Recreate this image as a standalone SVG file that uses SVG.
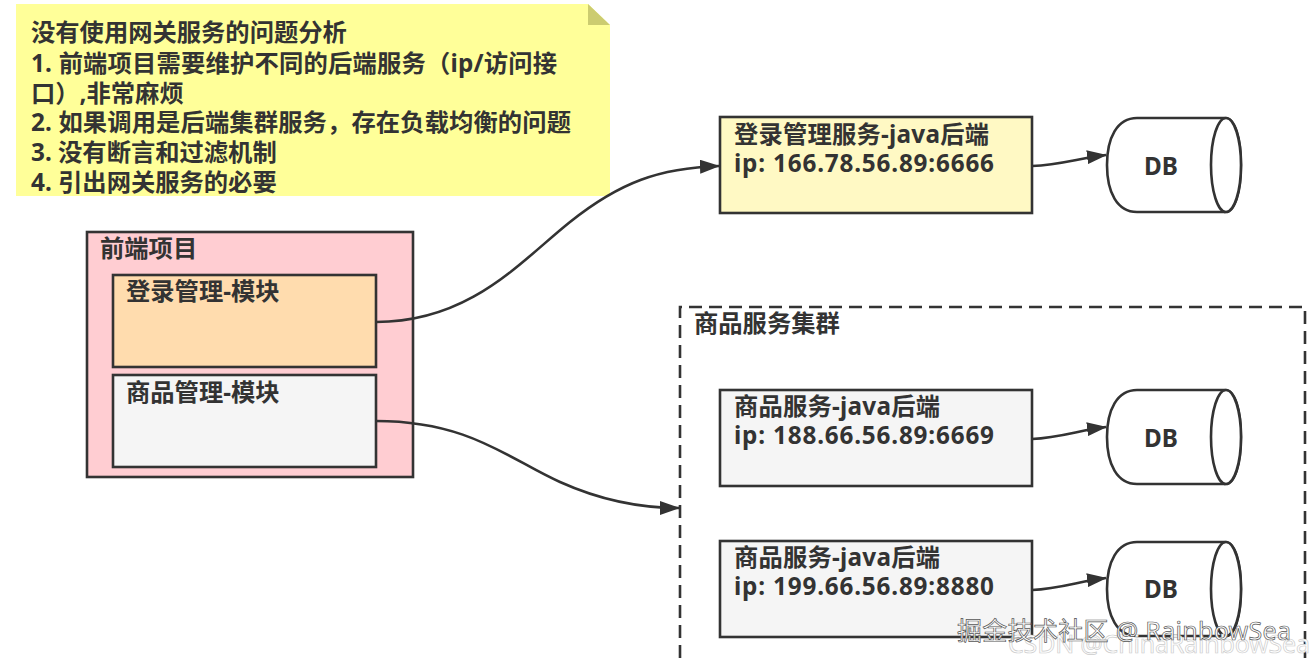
<svg xmlns="http://www.w3.org/2000/svg" width="1310" height="664" viewBox="0 0 1310 664">
<style>
text{font-family:"Noto Sans","Noto Sans CJK SC","Liberation Sans",sans-serif;font-weight:700;fill:#333;font-size:24.3px}
.box{stroke:#333;stroke-width:2.6}
.db{fill:#fff;stroke:#333;stroke-width:2.6}
.c{fill:none;stroke:#333;stroke-width:2.6}
.wm{font-weight:400;fill:#fff;stroke:#555;stroke-width:.7;font-size:25px}
.wm2{font-weight:400;fill:#fff;stroke:#ccc;stroke-width:.7;font-size:25px}
</style>
<defs>
<marker id="a" viewBox="0 0 20 14" refX="19" refY="7" markerWidth="20" markerHeight="14" markerUnits="userSpaceOnUse" orient="auto"><path d="M0 0L20 7L0 14Z" fill="#333"/></marker>
<g id="cyl"><path class="db" d="M30 0H118C128 0 134 20 134 47C134 74 128 94 118 94H30C10 94 0 74 0 47C0 20 10 0 30 0Z"/><ellipse class="db" cx="119" cy="47" rx="15" ry="47"/></g>
</defs>
<g id="note"><path d="M16 4H588L610 25V196H16Z" fill="#ffff99"/><path d="M588 4L610 25H588Z" fill="#cccc70"/>
<text x="31" y="41">没有使用网关服务的问题分析</text>
<text x="31" y="72" textLength="526">1. 前端项目需要维护不同的后端服务（ip/访问接</text>
<text x="31" y="102">口）,非常麻烦</text>
<text x="31" y="131" textLength="540">2. 如果调用是后端集群服务，存在负载均衡的问题</text>
<text x="31" y="161">3. 没有断言和过滤机制</text>
<text x="31" y="191">4. 引出网关服务的必要</text></g>
<g id="frontend"><rect class="box" x="87" y="232" width="326" height="245" fill="#ffcdd2"/><text x="100" y="257">前端项目</text></g>
<g id="login-module"><rect class="box" x="113" y="275" width="263" height="92" fill="#ffdcae"/><text x="126" y="300">登录管理-模块</text></g>
<g id="goods-module"><rect class="box" x="113" y="375" width="263" height="92" fill="#f5f5f5"/><text x="126" y="401">商品管理-模块</text></g>
<g id="login-service"><rect class="box" x="720" y="117" width="312" height="96" fill="#fff9c4"/><text x="734" y="143" textLength="255">登录管理服务-java后端</text><text x="734" y="172" textLength="260">ip: 166.78.56.89:6666</text></g>
<g id="cluster"><path d="M680 658V307H1305V658" fill="none" stroke="#333" stroke-width="2.6" stroke-dasharray="13 7"/><text x="694" y="332">商品服务集群</text></g>
<g id="goods-service-1"><rect class="box" x="720" y="390" width="312" height="96" fill="#f5f5f5"/><text x="734" y="415" textLength="206">商品服务-java后端</text><text x="734" y="444" textLength="260">ip: 188.66.56.89:6669</text></g>
<g id="goods-service-2"><rect class="box" x="720" y="541" width="312" height="96" fill="#f5f5f5"/><text x="734" y="566" textLength="206">商品服务-java后端</text><text x="734" y="595" textLength="260">ip: 199.66.56.89:8880</text></g>
<g id="db-1"><use href="#cyl" x="1107" y="118"/><text x="1144" y="175">DB</text></g>
<g id="db-2"><use href="#cyl" x="1107" y="390"/><text x="1144" y="447">DB</text></g>
<g id="db-3"><use href="#cyl" x="1107" y="542"/><text x="1144" y="598">DB</text></g>
<g id="connectors">
<path class="c" marker-end="url(#a)" d="M376 322C470 322 520 262 570 222C620 182 660 168 719 166"/>
<path class="c" marker-end="url(#a)" d="M376 421C470 421 510 460 560 482C600 500 640 508 679 508"/>
<path class="c" marker-end="url(#a)" d="M1032 166C1060 165 1080 158 1106 155"/>
<path class="c" marker-end="url(#a)" d="M1032 439C1060 438 1080 430 1106 427"/>
<path class="c" marker-end="url(#a)" d="M1032 590C1060 589 1080 581 1106 578"/>
</g>
<text class="wm2" x="1008" y="653" textLength="302">CSDN @ChinaRainbowSea</text>
<text class="wm" x="957" y="640" textLength="334">掘金技术社区 @ RainbowSea</text>
</svg>
